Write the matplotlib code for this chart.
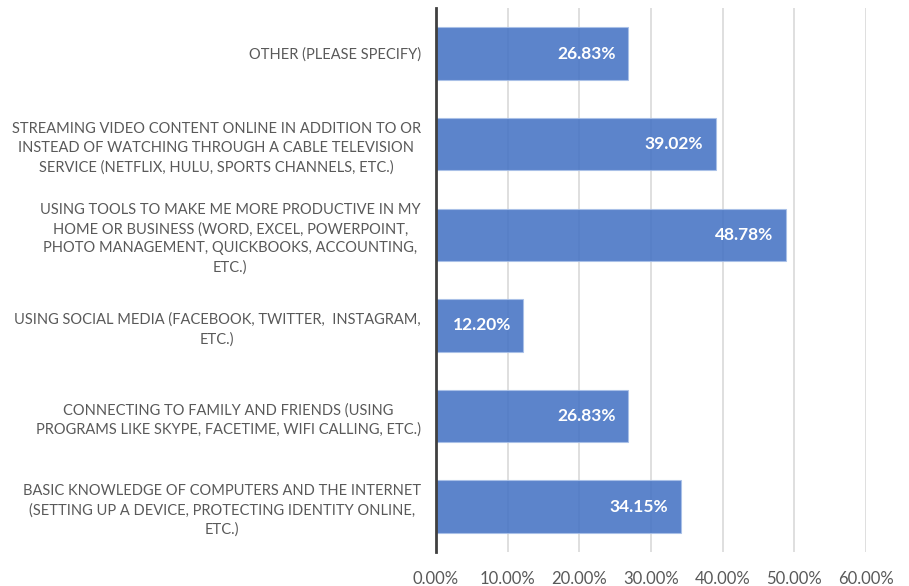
import matplotlib
matplotlib.use("Agg")
import matplotlib.pyplot as plt
from matplotlib.ticker import FuncFormatter

# data, top to bottom as shown
categories = [
    "OTHER (PLEASE SPECIFY)",
    "STREAMING VIDEO CONTENT ONLINE IN ADDITION TO OR\nINSTEAD OF WATCHING THROUGH A CABLE TELEVISION\nSERVICE (NETFLIX, HULU, SPORTS CHANNELS, ETC.)",
    "USING TOOLS TO MAKE ME MORE PRODUCTIVE IN MY\nHOME OR BUSINESS (WORD, EXCEL, POWERPOINT,\nPHOTO MANAGEMENT, QUICKBOOKS, ACCOUNTING,\nETC.)",
    "USING SOCIAL MEDIA (FACEBOOK, TWITTER,  INSTAGRAM,\nETC.)",
    "CONNECTING TO FAMILY AND FRIENDS (USING\nPROGRAMS LIKE SKYPE, FACETIME, WIFI CALLING, ETC.)",
    "BASIC KNOWLEDGE OF COMPUTERS AND THE INTERNET\n(SETTING UP A DEVICE, PROTECTING IDENTITY ONLINE,\nETC.)",
]
values = [0.2683, 0.3902, 0.4878, 0.1220, 0.2683, 0.3415]
x_ticks = [0.0, 0.1, 0.2, 0.3, 0.4, 0.5, 0.6]

plt.rcParams['font.family'] = ['Lato', 'DejaVu Sans']

fig = plt.figure(figsize=(9.09, 5.86), dpi=100)
ax = fig.add_axes([0.4796, 0.058, 0.4731, 0.928])

ypos = list(range(len(categories)))
ax.barh(ypos, values, height=0.58, color='#4472C4', alpha=0.87,
        edgecolor='#A9C0E8', linewidth=0.8, zorder=3)

for y, v in zip(ypos, values):
    ax.annotate(f"{v*100:.2f}%", (v, y), xytext=(-9, 0), textcoords='offset points',
                ha='right', va='center', color='white', fontsize=12.5,
                fontweight='bold', zorder=4)

ax.set_ylim(len(categories) - 0.5, -0.5)
ax.set_xlim(0, 0.6)
ax.set_xticks(x_ticks)
ax.xaxis.set_major_formatter(FuncFormatter(lambda x, _: f"{x*100:.2f}%"))
ax.set_yticks(ypos)
ax.set_yticklabels(categories, multialignment='center', linespacing=1.45)

ax.tick_params(axis='x', length=0, pad=14, labelsize=12, colors='#595959')
ax.tick_params(axis='y', length=0, pad=11, labelsize=10.5, colors='#595959')

ax.grid(axis='x', color='#D9D9D9', linewidth=1.2, zorder=0)
ax.set_axisbelow(True)
for side in ['top', 'right', 'bottom']:
    ax.spines[side].set_visible(False)
ax.spines['left'].set_color('#404040')
ax.spines['left'].set_linewidth(2)
ax.spines['left'].set_zorder(5)

fig.savefig('out.png', dpi=100)
